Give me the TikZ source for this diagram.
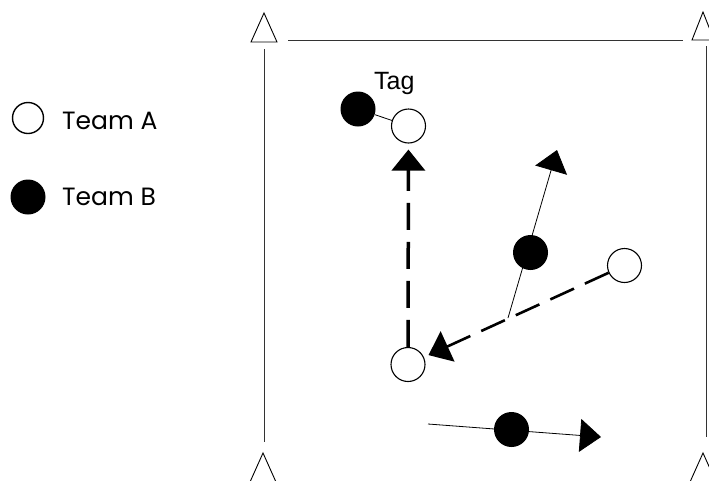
\documentclass[tikz,border=0pt]{standalone}
\usepackage{fontspec}
\setmainfont{Poppins}
\newfontfamily\tagfont{Liberation Sans}
\usetikzlibrary{arrows.meta}
\begin{document}
\begin{tikzpicture}[x=1pt,y=-1pt,
  teamA/.style={circle,draw=black,line width=1.1pt,fill=white,minimum size=34pt,inner sep=0pt},
  teamB/.style={circle,fill=black,minimum size=35pt,inner sep=0pt},
  legA/.style={circle,draw=black,line width=1.4pt,fill=white,minimum size=31pt,inner sep=0pt},
  legtext/.style={anchor=base west,inner sep=0pt,font=\fontsize{25}{29}\selectfont},
  frameline/.style={line width=0.8pt,draw=black!80},
  cone/.style={line width=0.9pt,draw=black,line join=miter},
  bigtip/.style={-{Triangle[length=21pt,width=33pt]}},
  thinline/.style={line width=0.8pt},
  thickdash/.style={line width=3.5pt,dash pattern=on 27pt off 12pt},
  meddash/.style={line width=2.6pt,dash pattern=on 26pt off 12pt}]
\useasboundingbox (0,0) rectangle (709,480);
% frame
\draw[frameline] (288,40) -- (683,40);
\draw[frameline] (264,49) -- (264,442);
\draw[frameline] (706,46) -- (706,437);
\draw[cone] (251,42) -- (277,42) -- (264,13) -- cycle;
\draw[cone] (692,40) -- (714,40) -- (703,12) -- cycle;
\draw[cone] (250,482) -- (263,453) -- (276,482);
\draw[cone] (690,482) -- (703,453) -- (716,482);
% legend
\node[legA] (legA) at (28,118) {};
\node[teamB,minimum size=35pt] (legB) at (28,197) {};
\node[legtext] (legAt) at (62,129) {Team A};
\node[legtext] (legBt) at (62,205) {Team B};
% players
\node[teamB] (B1) at (358,109) {};
\node[teamA] (A1) at (408.5,126) {};
\node[anchor=base west,inner sep=0pt,font=\tagfont\fontsize{25}{29}\selectfont] (tag) at (374,89) {Tag};
\node[teamA] (A2) at (408,364.5) {};
\node[teamA] (A3) at (624.5,265.5) {};
\coordinate (s1) at (508,318);
\coordinate (t1) at (557,150);
\coordinate (s2) at (428,424);
\coordinate (t2) at (601,437);
% connectors
\draw[thinline] (B1) -- (A1);
\draw[thickdash,bigtip,shorten >=6pt] (A2) -- (A1);
\draw[meddash,bigtip,shorten >=5pt] (A3) -- (A2);
\draw[thinline,bigtip] (s1) -- (t1);
\draw[thinline,bigtip] (s2) -- (t2);
\node[teamB] (B2) at (530.5,252.5) {};
\node[teamB] (B3) at (511.5,429.5) {};
\end{tikzpicture}
\end{document}
